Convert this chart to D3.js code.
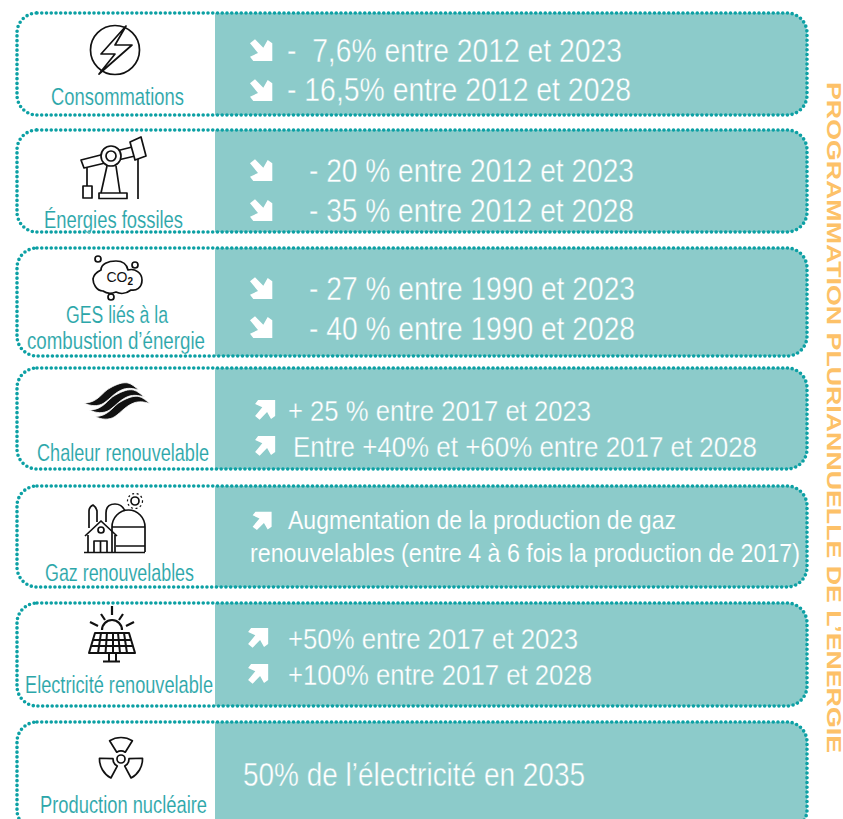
<!DOCTYPE html>
<html>
<head>
<meta charset="utf-8">
<script src="https://d3js.org/d3.v7.min.js"></script>
<style>
  html, body { margin: 0; padding: 0; background: #fff; overflow: hidden; }
  svg { display: block; }
  text { font-family: 'Liberation Sans Narrow', 'Liberation Sans', sans-serif; white-space: pre; }
</style>
</head>
<body>
<svg width="843" height="819"></svg>
<script>
const categories = [
  ['Consommations'],
  ['Énergies fossiles'],
  ['GES liés à la', 'combustion d’énergie'],
  ['Chaleur renouvelable'],
  ['Gaz renouvelables'],
  ['Electricité renouvelable'],
  ['Production nucléaire']
]
const objectives = [
  ['-  7,6% entre 2012 et 2023', '- 16,5% entre 2012 et 2028'],
  ['- 20 % entre 2012 et 2023', '- 35 % entre 2012 et 2028'],
  ['- 27 % entre 1990 et 2023', '- 40 % entre 1990 et 2028'],
  ['+ 25 % entre 2017 et 2023', 'Entre +40% et +60% entre 2017 et 2028'],
  ['Augmentation de la production de gaz', 'renouvelables (entre 4 à 6 fois la production de 2017)'],
  ['+50% entre 2017 et 2023', '+100% entre 2017 et 2028'],
  ['50% de l’électricité en 2035']
]
const trends = [
  ['down', 'down'],
  ['down', 'down'],
  ['down', 'down'],
  ['up', 'up'],
  ['up', null],
  ['up', 'up'],
  [null]
]
const title = 'PROGRAMMATION PLURIANNUELLE DE L’ENERGIE'

// layout, measured on the picture
const boxTop = [13, 130, 248, 368, 486, 603, 722]
const boxBottom = [115, 232, 356, 469, 587, 706, 830]
const labelSpan = [[[51, 184, 105]], [[44, 183, 228]], [[66, 168, 323], [27, 205, 349]], [[37, 209, 461]], [[45, 194, 581]], [[25, 213, 693]], [[40, 207, 813]]]
const textSpan = [
  [[287, 622, 62], [287, 631, 101]],
  [[309, 634, 182], [309, 634, 222]],
  [[309, 635, 300], [309, 635, 340]],
  [[288, 591, 421], [293, 757, 457]],
  [[288, 676, 529], [250, 800, 562]],
  [[288, 578, 649], [288, 592, 685]],
  [[243, 585, 786]]
]
const textSize = [33, 33, 33, 29, 25.5, 29, 33]
const textThin = [0.4, 0.4, 0.4, 0.3, 0.1, 0.3, 0.4]
const arrowX = [261, 261, 261, 265, 262, 258, 0]
const arrowY = [[50, 90], [170, 210], [288, 327], [410, 446], [521, 0], [638, 674], [0]]
const arrowScale = [1, 1, 1, 0.9, 0.85, 0.9, 1]

const teal = '#0ca0a4'
const panel = '#8ccbca'
const labelColor = '#2ba6a9'

const svg = d3.select('svg')
const x0 = 17, xSplit = 215, x1 = 807, r = 20

function rounded(l, t, w, b) {
  return `M${l + r},${t}H${w - r}A${r},${r} 0 0 1 ${w},${t + r}V${b - r}A${r},${r} 0 0 1 ${w - r},${b}H${l + r}A${r},${r} 0 0 1 ${l},${b - r}V${t + r}A${r},${r} 0 0 1 ${l + r},${t}Z`
}
function panelPath(t, b) {
  return `M${xSplit},${t}H${x1 - r}A${r},${r} 0 0 1 ${x1},${t + r}V${b - r}A${r},${r} 0 0 1 ${x1 - r},${b}H${xSplit}Z`
}

function drawArrow(g, cx, cy, dir, k) {
  // drawn pointing down-right, flipped vertically for the rising ones
  g.append('path')
    .attr('transform', `translate(${cx},${cy}) scale(${k},${dir === 'up' ? -k : k})`)
    .attr('d', 'M-11,-6.7L-6,-10.7L2.3,-2.3L6.7,-10L11.3,-6.7V11H-7.7L-11,6.7L-3,3Z')
    .attr('fill', '#fff')
}

categories.forEach((cat, i) => {
  const g = svg.append('g')
  g.append('path').attr('d', panelPath(boxTop[i], boxBottom[i])).attr('fill', panel)
  g.append('path').attr('d', rounded(x0, boxTop[i], x1, boxBottom[i]))
    .attr('fill', 'none').attr('stroke', teal).attr('stroke-width', 3.6)
    .attr('stroke-linecap', 'round').attr('stroke-dasharray', '0 4.75')

  cat.forEach((line, j) => {
    const s = labelSpan[i][j]
    g.append('text').attr('x', s[0]).attr('y', s[2])
      .attr('textLength', s[1] - s[0]).attr('lengthAdjust', 'spacingAndGlyphs')
      .attr('font-size', 23).attr('fill', labelColor)
      .attr('stroke', '#fff').attr('stroke-width', 0.12).text(line)
  })

  objectives[i].forEach((line, j) => {
    const s = textSpan[i][j]
    g.append('text').attr('x', s[0]).attr('y', s[2])
      .attr('textLength', s[1] - s[0]).attr('lengthAdjust', 'spacingAndGlyphs')
      .attr('font-size', textSize[i]).attr('fill', '#fff')
      .attr('stroke', panel).attr('stroke-width', textThin[i]).text(line)
    if (trends[i][j]) drawArrow(g, arrowX[i], arrowY[i][j], trends[i][j], arrowScale[i])
  })
})

// rotated title on the right
svg.append('text')
  .attr('transform', 'translate(827,82) rotate(90)')
  .style('font-family', "'Liberation Sans', sans-serif")
  .attr('font-size', 21).attr('font-weight', 'bold').attr('fill', '#fdc168')
  .attr('textLength', 671).attr('lengthAdjust', 'spacingAndGlyphs')
  .text(title)

// icons
const ink = svg.append('g').attr('fill', 'none').attr('stroke', '#111').attr('stroke-width', 1.7).attr('stroke-linejoin', 'round')

// lightning
ink.append('circle').attr('cx', 115).attr('cy', 50).attr('r', 24.5)
ink.append('path').attr('fill', '#fff').attr('d', 'M126,26L101,54H115L99,74L132,45H115Z')

// pump jack
ink.append('path').attr('d', 'M87,167V186M138,159V199M107,166L101,193M116,166L120,193')
ink.append('rect').attr('x', 83).attr('y', 186).attr('width', 9).attr('height', 12)
ink.append('rect').attr('x', 99).attr('y', 193).attr('width', 28).attr('height', 5.5)
ink.append('path').attr('fill', '#fff').attr('d', 'M81,160L132,147L135,156L84,168Z')
ink.append('path').attr('fill', '#fff').attr('d', 'M130,142L141,137L146,156L135,160Z')
ink.append('circle').attr('cx', 111).attr('cy', 156).attr('r', 10).attr('fill', '#fff')
ink.append('circle').attr('cx', 111).attr('cy', 156).attr('r', 5)

// CO2 cloud
ink.append('path').attr('d', 'M103,291C96,291 93,283 93,279C94,273 99,271 101,270C101,264 108,261 116,261C123,261 127,265 128,270C135,268 142,273 142,280C142,288 136,291 131,290C126,294 120,294 116,292C111,294 107,294 103,291Z')
ink.append('circle').attr('cx', 98).attr('cy', 259).attr('r', 3)
ink.append('circle').attr('cx', 135).attr('cy', 265).attr('r', 3)
ink.append('circle').attr('cx', 111).attr('cy', 297).attr('r', 3)
const co2 = svg.append('text').attr('x', 106.5).attr('y', 282).attr('font-size', 14).attr('fill', '#111').text('CO')
co2.append('tspan').attr('dy', 3).attr('font-size', 10).attr('font-weight', 'bold').text('2')

// heat waves
;[[11, 13.5], [5.5, 7], [0, 0]].forEach(d => {
  svg.append('path').attr('fill', '#111').attr('stroke', '#fff').attr('stroke-width', 0.8)
    .attr('transform', `translate(${d[0]},${d[1]})`)
    .attr('d', 'M84,403C98,403 102,392 110,388C117,384 123,382 128,383C132,384 135,387 139,390C132,388 128,388 124,389C115,392 111,398 104,403C98,407 90,406 84,403Z')
})

// biogas plant
ink.append('path').attr('d', 'M84,552.5H145M88,535V552M115,535V552M85,536L101,521L117,536M94,552V541H107V552M100.5,541V552')
ink.append('circle').attr('cx', 101).attr('cy', 530).attr('r', 3)
ink.append('path').attr('d', 'M89,528V511Q89,507 93,505Q96,507 97,511V522')
ink.append('path').attr('d', 'M112,552V527A16.5,17 0 0 1 145,527V552M112,527H145M116,546H145')
ink.append('path').attr('d', 'M106,522V513Q106,504 115,504Q122,504 125,511')
ink.append('circle').attr('cx', 135).attr('cy', 501).attr('r', 4)
ink.append('circle').attr('cx', 135).attr('cy', 501).attr('r', 7.5).attr('stroke-dasharray', '2 2.6').attr('stroke-width', 1.2)

// solar panel
ink.append('path').attr('stroke-width', 2.2).attr('d', 'M112,606V615M101,614L105,620M123,614L119,620M90,622L98,626M134,622L126,626M102,630A10,10 0 0 1 122,630')
ink.append('path').attr('stroke-width', 2).attr('d', 'M95,633H129L135,653H89ZM93,640H131M91,646H133M101,633L98,653M107,633L105.5,653M113,633V653M118,633L120,653M124,633L127,653M109,653V661M116,653V661M103,661.5H120')

// nuclear
const blade = d3.arc().innerRadius(8).outerRadius(21.5)
;[0, 120, 240].forEach(a => {
  ink.append('path').attr('transform', 'translate(121,759)')
    .attr('d', blade({ startAngle: (a - 32) * Math.PI / 180, endAngle: (a + 32) * Math.PI / 180 }))
})
ink.append('circle').attr('cx', 121).attr('cy', 759).attr('r', 4)
</script>
</body>
</html>
